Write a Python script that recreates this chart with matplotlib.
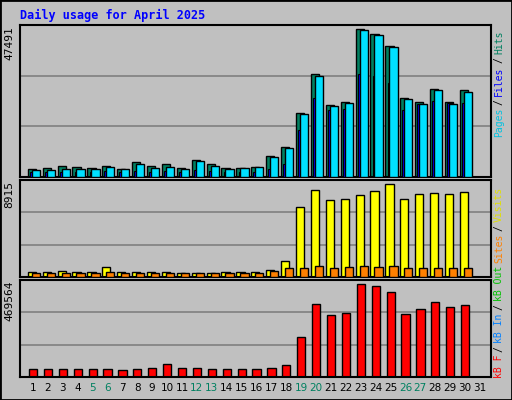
import numpy as np
import matplotlib.pyplot as plt
from matplotlib.patches import Rectangle

days = np.arange(1, 32)
hits = [2500, 2700, 3400, 3100, 2800, 3400, 2500, 4700, 3400, 4100, 2800, 5300, 4100, 2800, 2800, 3100,
        6600, 9400, 20000, 32200, 22500, 23400, 46200, 44700, 40900, 24700, 23400, 27500, 23400, 27200, 0]
files = [2200, 2200, 2500, 2500, 2500, 3100, 2500, 4100, 2800, 3100, 2500, 5000, 3400, 2500, 2800, 3100,
         6200, 9100, 19700, 31600, 22200, 23100, 45900, 44400, 40600, 24400, 22800, 27200, 22800, 26600, 0]
pages = [1500, 1500, 1600, 1500, 1500, 1800, 1500, 2000, 1600, 1800, 1500, 2200, 1800, 1500, 1600, 1600,
         2500, 4100, 14700, 24700, 20900, 21200, 32200, 31600, 29400, 20900, 22800, 23700, 23100, 23100, 0]
visits = [460, 460, 550, 460, 460, 920, 460, 460, 460, 460, 370, 370, 370, 460, 460, 460,
          640, 1470, 6430, 7990, 7080, 7170, 7540, 7900, 8550, 7170, 7630, 7720, 7630, 7810, 0]
sites = [370, 370, 370, 370, 370, 460, 370, 370, 370, 370, 370, 370, 370, 370, 370, 370,
         550, 830, 830, 1010, 830, 920, 1010, 920, 1010, 830, 830, 830, 830, 830, 0]
kbytes = [39000, 39000, 39000, 39000, 39000, 39000, 34000, 39000, 44000, 64000, 44000, 44000, 39000, 39000, 39000, 39000,
          44000, 59000, 196000, 352000, 298000, 308000, 450000, 440000, 411000, 303000, 328000, 362000, 337000, 347000, 0]
weekend = [5, 6, 12, 13, 19, 20, 26, 27]
max_top, max_mid, max_bot = 47491, 8915, 469564

BG = '#C0C0C0'
fig = plt.figure(figsize=(5.12, 4.0), dpi=100, facecolor=BG)
fig.patches.append(Rectangle((0, 0), 1, 1, transform=fig.transFigure, fill=False, edgecolor='black', lw=2))

def px_axes(top, bottom):
    return fig.add_axes([20 / 512, 1 - bottom / 400, 471 / 512, (bottom - top) / 400])

def style(ax, ymax, label):
    ax.set_facecolor(BG)
    ax.set_xlim(0.13, 31.74)
    ax.set_ylim(0, ymax)
    for g in (ymax / 3, 2 * ymax / 3):
        ax.axhline(g, color='#808080', lw=1.2, zorder=0)
    ax.set_xticks([]); ax.set_yticks([])
    for s in ax.spines.values():
        s.set_color('black'); s.set_linewidth(1.5)
    ax.text(-0.012, 0.99, label, transform=ax.transAxes, rotation=90, ha='right', va='top',
            family='DejaVu Sans Mono', fontsize=8)

ax1 = px_axes(25, 177)
style(ax1, max_top, str(max_top))
ax1.bar(days - 0.35, hits, width=0.55, align='edge', color='#008060', edgecolor='black', lw=1, zorder=2)
ax1.bar(days - 0.2, pages, width=0.4, align='edge', color='#0000FF', edgecolor='black', lw=0.8, zorder=3)
ax1.bar(days - 0.08, files, width=0.55, align='edge', color='#00E0FF', edgecolor='black', lw=1, zorder=4)

ax2 = px_axes(180, 277)
style(ax2, max_mid, str(max_mid))
ax2.bar(days - 0.35, visits, width=0.55, align='edge', color='#FFFF00', edgecolor='black', lw=1, zorder=2)
ax2.bar(days - 0.08, sites, width=0.55, align='edge', color='#FF8000', edgecolor='black', lw=1, zorder=3)

ax3 = px_axes(280, 377)
style(ax3, max_bot, str(max_bot))
ax3.bar(days - 0.27, kbytes, width=0.55, align='edge', color='#FF0000', edgecolor='black', lw=1, zorder=2)

for d in days:
    x = (20 + (d - 0.13) / (31.74 - 0.13) * 471) / 512
    fig.text(x, 1 - 388 / 400, str(d), ha='center', va='center', fontsize=7.5,
             color='#008060' if d in weekend else 'black')

fig.text(20 / 512, 1 - 15 / 400, 'Daily usage for April 2025', ha='left', va='center',
         family='DejaVu Sans Mono', fontweight='bold', fontsize=8.5, color='#0000FF')

# right side legends, stacked bottom-up using measured text extents
renderer = fig.canvas.get_renderer()

def legend(parts, y_bottom):
    y = 1 - y_bottom / 400
    for txt, col in parts:
        t = fig.text(499 / 512, y, txt.strip(), rotation=90, ha='center', va='bottom',
                     family='DejaVu Sans Mono', fontsize=7, color=col)
        h = t.get_window_extent(renderer).height
        y += (h + 3) / 400

legend([('Pages', '#00C0E0'), ('/', 'black'), ('Files', '#0000FF'), ('/', 'black'), ('Hits', '#008060')], 137)
legend([('kB F', '#FF0000'), ('/', 'black'), ('kB In', '#0080FF'), ('/', 'black'), ('kB Out', '#00C000'),
        ('Sites', '#FF8000'), ('/', 'black'), ('Visits', '#E0E000')], 378)

fig.savefig('out.png', dpi=100, facecolor=BG)
